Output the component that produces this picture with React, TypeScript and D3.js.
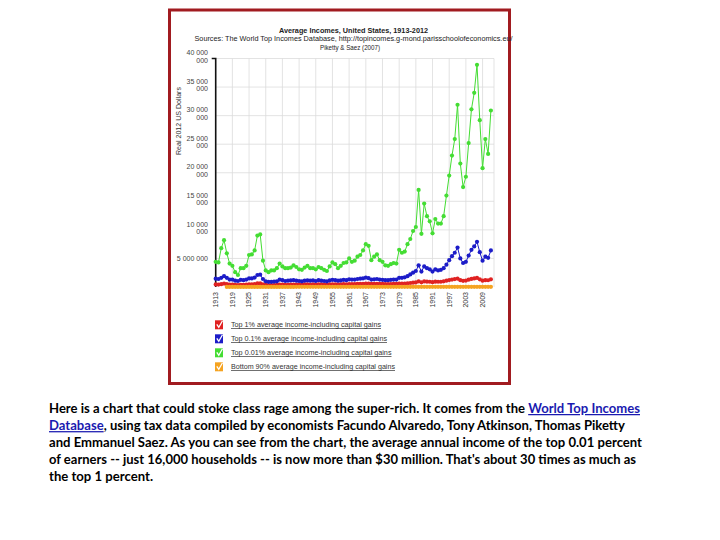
import { useEffect, useRef } from 'react';
import * as d3 from 'd3';

// 数据：百万美元（2012 实际美元）
const FIRST_YEAR = 1913;
const top001 = [
  4.4, 4.3, 6.8, 8.2, 5.9, 4.1, 3.7, 2.6, 2.1, 3.3,
  3.3, 3.7, 5.6, 5.7, 6.4, 9.0, 9.2, 4.6, 2.9, 2.6,
  2.9, 2.9, 3.3, 4.1, 3.6, 3.3, 3.3, 3.4, 3.8, 3.5,
  3.1, 3.0, 3.4, 3.7, 3.3, 3.3, 3.1, 3.5, 3.3, 3.0,
  2.8, 3.6, 4.3, 4.0, 3.3, 3.7, 4.2, 4.3, 5.0, 4.4,
  4.6, 5.3, 5.6, 6.4, 7.5, 7.2, 4.7, 5.3, 5.7, 4.7,
  4.4, 3.8, 3.7, 4.0, 4.2, 4.1, 6.5, 6.0, 6.2, 7.5,
  8.4, 9.8, 10.5, 17.0, 9.3, 14.6, 12.4, 11.5, 9.4, 11.9,
  11.1, 11.1, 12.4, 16.0, 19.5, 23.0, 25.9, 31.9, 21.6, 17.5,
  19.3, 25.2, 31.1, 34.0, 38.9, 29.2, 20.8, 25.9, 23.3, 30.9,
];
const top01 = [
  1.45, 1.4, 1.6, 1.9, 1.6, 1.3, 1.3, 1.1, 1.05, 1.25,
  1.2, 1.3, 1.5, 1.5, 1.65, 2.1, 2.15, 1.4, 1.0, 0.9,
  0.9, 0.95, 1.0, 1.3, 1.2, 1.05, 1.1, 1.15, 1.2, 1.1,
  1.05, 1.0, 1.1, 1.15, 1.1, 1.15, 1.05, 1.2, 1.1, 1.05,
  1.0, 1.15, 1.25, 1.2, 1.1, 1.15, 1.25, 1.2, 1.35, 1.3,
  1.3, 1.4, 1.45, 1.5, 1.65, 1.55, 1.3, 1.35, 1.4, 1.3,
  1.25, 1.2, 1.2, 1.25, 1.3, 1.3, 1.6, 1.6, 1.7, 1.9,
  2.2, 2.5, 2.8, 3.8, 2.7, 3.6, 3.3, 3.1, 2.7, 3.1,
  2.9, 3.0, 3.3, 3.9, 4.7, 5.4, 6.0, 6.9, 5.0, 4.2,
  4.4, 5.5, 6.5, 7.1, 7.9, 6.1, 4.6, 5.3, 5.1, 6.4,
];
const top1 = [
  0.45, 0.43, 0.5, 0.6, 0.5, 0.42, 0.42, 0.37, 0.33, 0.38,
  0.38, 0.4, 0.47, 0.48, 0.5, 0.62, 0.62, 0.45, 0.36, 0.32,
  0.32, 0.33, 0.36, 0.42, 0.4, 0.37, 0.38, 0.4, 0.42, 0.42,
  0.42, 0.42, 0.45, 0.46, 0.44, 0.46, 0.43, 0.47, 0.45, 0.43,
  0.42, 0.45, 0.48, 0.47, 0.45, 0.46, 0.49, 0.48, 0.5, 0.49,
  0.5, 0.53, 0.56, 0.57, 0.6, 0.6, 0.54, 0.53, 0.55, 0.55,
  0.53, 0.5, 0.5, 0.52, 0.53, 0.54, 0.6, 0.6, 0.6, 0.64,
  0.7, 0.76, 0.8, 1.0, 0.82, 0.98, 0.94, 0.92, 0.85, 0.94,
  0.92, 0.92, 1.0, 1.1, 1.22, 1.3, 1.38, 1.48, 1.2, 1.08,
  1.12, 1.28, 1.42, 1.5, 1.58, 1.35, 1.1, 1.2, 1.18, 1.35,
];
// 千美元，从 1917 年开始
const BOTTOM90_START = 1917;
const bottom90 = [
  14, 15, 15.5, 14.5, 13, 15, 16.5, 16.5, 17, 17.5,
  17.5, 18, 18.5, 17, 15.5, 13, 12.5, 13.5, 14.5, 16,
  16.5, 15.5, 17, 18, 20.5, 23, 25.5, 26, 25.5, 24.5,
  23.5, 24, 23.5, 25, 26, 26.5, 27.5, 27.5, 28.5, 29.5,
  29.5, 29.5, 30.5, 30.5, 31, 32, 32.5, 33.5, 34.5, 35.5,
  36, 36.5, 37, 36, 36, 37, 37.5, 35.5, 34.5, 35,
  35, 35.5, 35, 33.5, 33, 32.5, 32.5, 33.5, 33.5, 34.5,
  33.5, 33.5, 33.5, 32.5, 31.5, 31.5, 31, 31.5, 32, 32.5,
  33.5, 35, 35.5, 36, 35, 33.5, 33, 33.5, 33.5, 34,
  34, 32, 30, 30, 30, 30.5,
];

const xTicks = [1913, 1919, 1925, 1931, 1937, 1943, 1949, 1955, 1961, 1967, 1973, 1979, 1985, 1991, 1997, 2003, 2009];
const yTicks = [5, 10, 15, 20, 25, 30, 35, 40];
const yTickLabels = [
  ['5 000 000'],
  ['10 000', '000'],
  ['15 000', '000'],
  ['20 000', '000'],
  ['25 000', '000'],
  ['30 000', '000'],
  ['35 000', '000'],
  ['40 000', '000'],
];

const legendLabels = [
  'Top 1% average income-including capital gains',
  'Top 0.1% average income-including capital gains',
  'Top 0.01% average income-including capital gains',
  'Bottom 90% average income-including capital gains',
];
const legendColors = ['#e02222', '#1c1cc8', '#44dd33', '#f5a321'];

const paragraph = [
  [{ t: 'Here is a chart that could stoke class rage among the super-rich. It comes from the ' }, { t: 'World Top Incomes', link: true }],
  [{ t: 'Database', link: true }, { t: ', using tax data compiled by economists Facundo Alvaredo, Tony Atkinson, Thomas Piketty' }],
  [{ t: 'and Emmanuel Saez. As you can see from the chart, the average annual income of the top 0.01 percent' }],
  [{ t: "of earners -- just 16,000 households -- is now more than $30 million. That's about 30 times as much as" }],
  [{ t: 'the top 1 percent.' }],
];
const paragraphWidths = [591, 576, 593, 587, 104];

export default function App() {
  const svgRef = useRef<SVGSVGElement>(null);

  useEffect(() => {
    if (!svgRef.current) return;
    const svg = d3.select(svgRef.current);
    svg.selectAll('*').remove();

    const font = '"Liberation Sans", Arial, sans-serif';
    const left = 215.7, right = 494, top = 58.5, bottom = 287;

    const x = d3.scaleLinear().domain([1913, 2012]).range([left, 490.9]);
    const y = d3.scaleLinear().domain([0, 40]).range([bottom, top]);

    // 外框
    svg.append('rect')
      .attr('x', 169.5).attr('y', 10).attr('width', 340).attr('height', 373.5)
      .attr('fill', '#fff').attr('stroke', '#a11b20').attr('stroke-width', 3);

    // 标题
    const title = svg.append('g').attr('font-family', font).attr('fill', '#222').attr('text-anchor', 'middle');
    title.append('text').attr('x', 353.5).attr('y', 32.5).attr('font-size', 7.5).attr('font-weight', 'bold')
      .attr('textLength', 149).attr('lengthAdjust', 'spacingAndGlyphs')
      .text('Average Incomes, United States, 1913-2012');
    title.append('text').attr('x', 353.5).attr('y', 41).attr('font-size', 7.2)
      .attr('textLength', 318).attr('lengthAdjust', 'spacingAndGlyphs')
      .text('Sources: The World Top Incomes Database, http://topincomes.g-mond.parisschoolofeconomics.eu/');
    title.append('text').attr('x', 350).attr('y', 49.5).attr('font-size', 7.2)
      .attr('textLength', 60).attr('lengthAdjust', 'spacingAndGlyphs')
      .text('Piketty & Saez (2007)');

    // 网格
    const grid = svg.append('g').attr('stroke', '#dcdcdc').attr('stroke-width', 0.8);
    grid.selectAll('.hg').data(yTicks).enter().append('line')
      .attr('x1', left).attr('x2', right).attr('y1', d => y(d)).attr('y2', d => y(d));
    grid.selectAll('.vg').data(xTicks).enter().append('line')
      .attr('x1', d => x(d)).attr('x2', d => x(d)).attr('y1', top).attr('y2', bottom);
    grid.append('line').attr('x1', right).attr('x2', right).attr('y1', top).attr('y2', bottom);

    // Y 轴
    svg.append('path')
      .attr('d', `M${left - 4},${top}H${left}V${bottom}`)
      .attr('fill', 'none').attr('stroke', '#111').attr('stroke-width', 1.6);

    const yLab = svg.append('g').attr('font-family', font).attr('font-size', 7).attr('fill', '#444').attr('text-anchor', 'end');
    yTicks.forEach((v, i) => {
      const lines = yTickLabels[i];
      const t = yLab.append('text');
      if (lines.length === 1) {
        t.append('tspan').attr('x', 208).attr('y', y(v) + 2.4).text(lines[0]);
      } else {
        t.append('tspan').attr('x', 208).attr('y', y(v) - 3.3).text(lines[0]);
        t.append('tspan').attr('x', 208).attr('y', y(v) + 4).text(lines[1]);
      }
    });

    svg.append('text')
      .attr('transform', 'translate(180.5,121) rotate(-90)')
      .attr('text-anchor', 'middle').attr('font-family', font).attr('font-size', 7).attr('fill', '#333')
      .attr('textLength', 68).attr('lengthAdjust', 'spacingAndGlyphs')
      .text('Real 2012 US Dollars');

    // X 轴标签
    const xLab = svg.append('g').attr('font-family', font).attr('font-size', 7).attr('fill', '#333');
    xLab.selectAll('text').data(xTicks).enter().append('text')
      .attr('transform', d => `translate(${x(d) + 2.4},292) rotate(-90)`)
      .attr('text-anchor', 'end')
      .text(d => String(d));

    // 折线
    const drawSeries = (vals: number[], start: number, scale: number, color: string) => {
      const pts = vals.map((v, i) => ({ year: start + i, v: v * scale }));
      const line = d3.line<typeof pts[0]>().x(d => x(d.year)).y(d => y(d.v));
      const g = svg.append('g');
      g.append('path').datum(pts).attr('d', line).attr('fill', 'none').attr('stroke', color).attr('stroke-width', 1);
      g.selectAll('circle').data(pts).enter().append('circle')
        .attr('cx', d => x(d.year)).attr('cy', d => y(d.v)).attr('r', 2.1).attr('fill', color);
    };
    drawSeries(top1, FIRST_YEAR, 1, legendColors[0]);
    drawSeries(top01, FIRST_YEAR, 1, legendColors[1]);
    drawSeries(top001, FIRST_YEAR, 1, legendColors[2]);
    drawSeries(bottom90, BOTTOM90_START, 0.001, legendColors[3]);

    // 图例
    const lg = svg.append('g').attr('font-family', font).attr('font-size', 7).attr('fill', '#333');
    const legendY = d3.scaleLinear().domain([0, 3]).range([327.3, 369.3]);
    const legendWidths = [150, 156, 160.5, 164];
    legendLabels.forEach((label, i) => {
      const by = legendY(i);
      lg.append('rect').attr('x', 215).attr('y', by - 7).attr('width', 8).attr('height', 9)
        .attr('fill', legendColors[i]);
      lg.append('path').attr('d', `M216.8,${by - 3}L218.8,${by}L222.5,${by - 6.5}`)
        .attr('fill', 'none').attr('stroke', '#fff').attr('stroke-width', 1.3);
      lg.append('text').attr('x', 231).attr('y', by)
        .attr('text-decoration', 'underline')
        .attr('textLength', legendWidths[i]).attr('lengthAdjust', 'spacingAndGlyphs')
        .text(label);
    });

    // 正文
    const para = svg.append('g').attr('font-family', 'Lato, "Open Sans", sans-serif')
      .attr('font-size', 12.5).attr('font-weight', 'bold').attr('fill', '#000');
    paragraph.forEach((segs, i) => {
      const t = para.append('text').attr('x', 49).attr('y', 413 + i * 17.1)
        .attr('textLength', paragraphWidths[i]).attr('lengthAdjust', 'spacingAndGlyphs');
      segs.forEach(s => {
        const sp = t.append('tspan').text(s.t);
        if ((s as any).link) sp.attr('fill', '#1a1ab0').attr('text-decoration', 'underline');
      });
    });
  }, []);

  return (
    <div style={{ position: 'absolute', left: 0, top: 0, width: 720, height: 540, background: '#fff' }}>
      <svg ref={svgRef} width={720} height={540} />
    </div>
  );
}
